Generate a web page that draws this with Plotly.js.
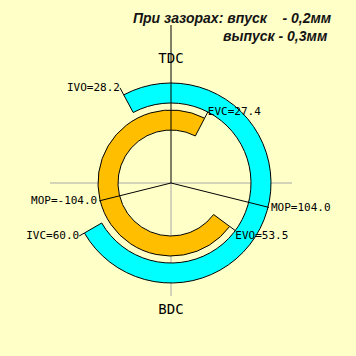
<!DOCTYPE html>
<html>
<head>
<meta charset="utf-8">
<script src="https://cdn.plot.ly/plotly-3.0.1.min.js"></script>
<style>
  html, body { margin: 0; padding: 0; background: #FFFFC8; }
  #chart { width: 356px; height: 356px; }
</style>
</head>
<body>
<div id="chart"></div>
<script>
// Valve timing (crank degrees) for the given valve clearances
const deadCentres = ['TDC', 'BDC'];
const timingLabels = ['IVO', 'IVC', 'EVO', 'EVC'];
const timingValues = [28.2, 60.0, 53.5, 27.4];
const mopLabels = ['MOP', 'MOP'];
const mopValues = [104.0, -104.0];
const clearanceLines = ['При зазорах: впуск\u00a0\u00a0\u00a0\u00a0- 0,2мм', 'выпуск - 0,3мм'];

const [ivo, ivc, evo, evc] = timingValues;

// Angles measured clockwise from TDC
const intakeStart = -ivo, intakeEnd = 180 + ivc;
const exhaustStart = 180 - evo, exhaustEnd = 360 + evc;

const INTAKE_R = [80, 100];
const EXHAUST_R = [53, 73];
const LABEL_FONT = { family: 'DejaVu Sans Mono', size: 11, color: '#000000' };

const fmt = v => v.toFixed(1);

function seg(r0, r1, th0, th1, color, sub) {
  return {
    type: 'scatterpolar', subplot: sub, mode: 'lines',
    r: [r0, r1], theta: [th0, th1],
    line: { color: color, width: 1 }, hoverinfo: 'skip', cliponaxis: false
  };
}

function label(r, th, text, pos, font) {
  return {
    type: 'scatterpolar', subplot: 'polar2', mode: 'text',
    r: [r], theta: [th], text: [text], textposition: pos,
    textfont: font || LABEL_FONT, marker: { size: 2 },
    hoverinfo: 'skip', cliponaxis: false
  };
}

const traces = [];

// Grey reference axes (beneath the rings)
traces.push({
  type: 'scatterpolar', subplot: 'polar', mode: 'lines',
  r: [121, 0, 121], theta: [270, 270, 90],
  line: { color: '#A8A8A8', width: 1 }, hoverinfo: 'skip'
});
traces.push(seg(0, 113, 180, 180, '#A8A8A8', 'polar'));

// Intake and exhaust opening rings
traces.push({
  type: 'barpolar', subplot: 'polar2',
  theta: [(intakeStart + intakeEnd) / 2], width: [intakeEnd - intakeStart],
  base: [INTAKE_R[0]], r: [INTAKE_R[1] - INTAKE_R[0]],
  marker: { color: '#00FFFF', line: { color: '#000000', width: 1 } },
  hoverinfo: 'skip'
});
traces.push({
  type: 'barpolar', subplot: 'polar2',
  theta: [(exhaustStart + exhaustEnd) / 2], width: [exhaustEnd - exhaustStart],
  base: [EXHAUST_R[0]], r: [EXHAUST_R[1] - EXHAUST_R[0]],
  marker: { color: '#FFBF00', line: { color: '#000000', width: 1 } },
  hoverinfo: 'skip'
});

// TDC axis and maximum-opening-point rays
traces.push(seg(0, 158, 0, 0, '#000000', 'polar2'));
traces.push(seg(0, INTAKE_R[1] + 1, mopValues[0], mopValues[0], '#000000', 'polar2'));
traces.push(seg(0, EXHAUST_R[1] + 1, mopValues[1], mopValues[1], '#000000', 'polar2'));

// Leaders from ring ends to their labels
traces.push(seg(INTAKE_R[1], 108, intakeStart, intakeStart, '#000000', 'polar2'));
traces.push(seg(INTAKE_R[1], 106, intakeEnd, intakeEnd, '#000000', 'polar2'));
traces.push(seg(EXHAUST_R[1], 80, exhaustStart, exhaustStart, '#000000', 'polar2'));
traces.push(seg(EXHAUST_R[1], 80, exhaustEnd, exhaustEnd, '#000000', 'polar2'));

// Labels
traces.push(label(108, intakeStart, timingLabels[0] + '=' + fmt(ivo), 'middle left'));
traces.push(label(106, intakeEnd, timingLabels[1] + '=' + fmt(ivc), 'middle left'));
traces.push(label(80, exhaustStart, timingLabels[2] + '=' + fmt(evo), 'bottom right'));
traces.push(label(80, exhaustEnd, timingLabels[3] + '=' + fmt(evc), 'middle right'));
traces.push(label(103, mopValues[0], mopLabels[0] + '=' + fmt(mopValues[0]), 'middle right'));
traces.push(label(76, mopValues[1], mopLabels[1] + '=' + fmt(mopValues[1]), 'middle left'));

const dcFont = { family: 'DejaVu Sans Mono', size: 14, color: '#000000' };
traces.push(label(124, 0, deadCentres[0], 'middle center', dcFont));
traces.push(label(127, 180, deadCentres[1], 'middle center', dcFont));

const polarCommon = {
  domain: { x: [11 / 356, 331 / 356], y: [13 / 356, 333 / 356] },
  bgcolor: 'rgba(0,0,0,0)',
  radialaxis: { visible: false, range: [0, 160] },
  angularaxis: { visible: false, rotation: 90, direction: 'clockwise' }
};

const titleFont = { family: 'Liberation Sans', size: 14, color: '#141414' };

const layout = {
  width: 356, height: 356,
  margin: { l: 0, r: 0, t: 0, b: 0 },
  paper_bgcolor: '#FFFFC8',
  showlegend: false,
  barmode: 'overlay',
  polar: JSON.parse(JSON.stringify(polarCommon)),
  polar2: JSON.parse(JSON.stringify(polarCommon)),
  annotations: [
    { text: '<b><i>' + clearanceLines[0] + '</i></b>', xref: 'paper', yref: 'paper',
      x: 334 / 356, y: 1 - 18 / 356, xanchor: 'right', yanchor: 'middle',
      showarrow: false, font: titleFont },
    { text: '<b><i>' + clearanceLines[1] + '</i></b>', xref: 'paper', yref: 'paper',
      x: 330 / 356, y: 1 - 36 / 356, xanchor: 'right', yanchor: 'middle',
      showarrow: false, font: titleFont }
  ]
};

Plotly.newPlot('chart', traces, layout, { staticPlot: true, displayModeBar: false });
</script>
</body>
</html>
